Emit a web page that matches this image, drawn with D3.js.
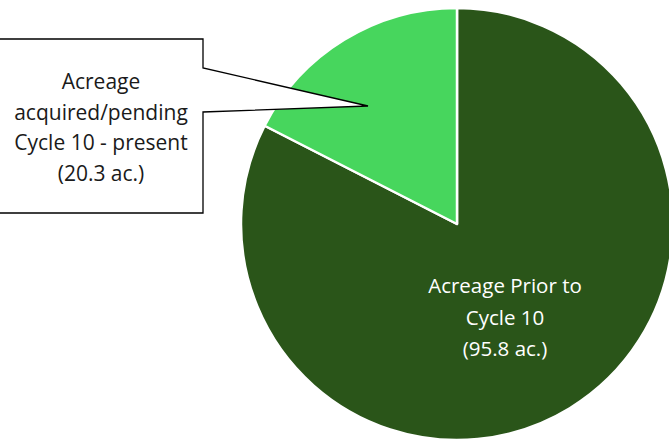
<!DOCTYPE html>
<html>
<head>
<meta charset="utf-8">
<script src="https://cdn.jsdelivr.net/npm/d3@7"></script>
<style>
  body { margin: 0; background: #fff; }
  text { font-family: "Open Sans", sans-serif; }
</style>
</head>
<body>
<div id="chart"></div>
<script>
// data
var categories = ["Acreage Prior to Cycle 10", "Acreage acquired/pending Cycle 10 - present"];
var acres = [95.8, 20.3];
var colors = ["#2a5519", "#47d65d"];

var svgWidth = 669;
var svgHeight = 439;

var cx = 457, cy = 224, radius = 216;

var svg = d3.select("#chart")
    .append("svg")
    .attr("width", svgWidth)
    .attr("height", svgHeight);

var pie = d3.pie().sort(null).value(d => d);
var arcs = pie(acres);

var arc = d3.arc().innerRadius(0).outerRadius(radius);

var pieGroup = svg.append("g")
    .attr("transform", `translate(${cx}, ${cy})`);

pieGroup.selectAll("path")
    .data(arcs)
    .enter()
    .append("path")
    .attr("d", arc)
    .attr("fill", (d, i) => colors[i])
    .attr("stroke", "#fff")
    .attr("stroke-width", 2.5)
    .attr("stroke-linejoin", "round");

// label inside big slice
var inside = pieGroup.append("text")
    .attr("fill", "#fff")
    .attr("text-anchor", "middle")
    .style("font-size", "20.5px");
var insideLines = ["Acreage Prior to", "Cycle 10", "(" + acres[0] + " ac.)"];
inside.selectAll("tspan")
    .data(insideLines)
    .enter()
    .append("tspan")
    .attr("x", 505 - cx)
    .attr("y", (d, i) => 293 - cy + i * 31.5)
    .text(d => d);

// callout for small slice
var box = { left: -2, top: 39, right: 203, bottom: 213 };
var tip = [368, 106];
svg.append("path")
    .attr("d", `M${box.left},${box.top} L${box.right},${box.top} L${box.right},68 L${tip[0]},${tip[1]} L${box.right},112 L${box.right},${box.bottom} L${box.left},${box.bottom} Z`)
    .attr("fill", "#fff")
    .attr("stroke", "#000")
    .attr("stroke-width", 1.3);

var callout = svg.append("text")
    .attr("fill", "#1a1a1a")
    .attr("text-anchor", "middle")
    .style("font-size", "21px");
var calloutLines = ["Acreage", "acquired/pending", "Cycle 10 - present", "(" + acres[1] + " ac.)"];
callout.selectAll("tspan")
    .data(calloutLines)
    .enter()
    .append("tspan")
    .attr("x", 101)
    .attr("y", (d, i) => 89 + i * 30.5)
    .text(d => d);
</script>
</body>
</html>
